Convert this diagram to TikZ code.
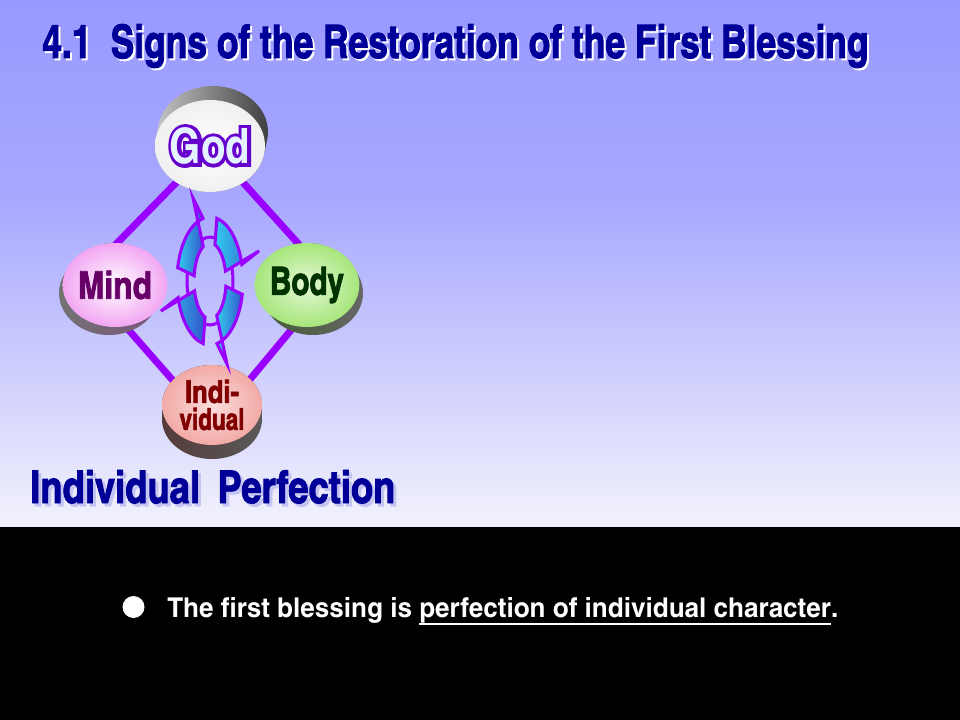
\documentclass[tikz,border=0pt]{standalone}
\usepackage{fontspec}
\usepackage{graphicx}
\newfontfamily\cnfont{TeX Gyre Heros Cn}
\newfontfamily\heavyfont{TeX Gyre Heros Cn}[FakeBold=2]
\newfontfamily\rimfont{TeX Gyre Heros Cn}[FakeBold=14]
\usetikzlibrary{shapes.geometric}

\newlength\px
\setlength\px{0.75pt}
\newcommand\fitto[3]{\resizebox{#1\px}{#2\px}{\cnfont\bfseries #3}}
\newcommand\heavyfit[3]{\resizebox{#1\px}{#2\px}{\heavyfont\bfseries #3}}
\newcommand\undr[1]{\vtop{\hbox{#1}\kern0.25pt\hrule height 0.7pt}}

\definecolor{bgtop}{HTML}{9999FF}
\definecolor{bgmid}{HTML}{A8A8FF}
\definecolor{bgbot}{HTML}{F2F2FC}
\definecolor{linkviolet}{HTML}{9900FF}
\definecolor{titleblue}{HTML}{000099}
\definecolor{shadeblue}{HTML}{C4C4F2}
\definecolor{godpurple}{HTML}{6600CC}
\definecolor{godfill}{HTML}{E4F2FF}
\definecolor{mindpink}{HTML}{F2A6F2}
\definecolor{mindtext}{HTML}{660066}
\definecolor{bodygreen}{HTML}{A6E67A}
\definecolor{bodytext}{HTML}{003300}
\definecolor{indpink}{HTML}{F2AAA6}
\definecolor{indtext}{HTML}{800000}
\definecolor{bladecyan}{HTML}{33CCEE}
\definecolor{bladeblue}{HTML}{3355CC}

\tikzset{
  face/.style={ellipse, shade, inner sep=0pt, minimum width=100\px, minimum height=84\px},
  link/.style={linkviolet, line width=7\px, line join=round},
  blade/.style={left color=bladecyan, right color=bladeblue, draw=linkviolet,
    line width=3\px, line join=miter},
  word/.style={inner sep=0pt, anchor=base west},
}

\begin{document}
\begin{tikzpicture}[x=0.75pt, y=-0.75pt]
  \useasboundingbox (0,0) rectangle (960,720);
  % backdrop
  \shade[top color=bgtop, bottom color=bgmid] (0,0) rectangle (960,201);
  \shade[top color=bgmid, bottom color=bgbot] (0,200) rectangle (960,527);
  \fill[black] (0,527) rectangle (960,720);

  % diamond of links
  \coordinate (godpt) at (211,147);
  \coordinate (bodypt) at (332,281);
  \coordinate (indpt) at (212,425);
  \coordinate (mindpt) at (83,278);
  \draw[link] (godpt) -- (bodypt) -- (indpt) -- (mindpt) -- cycle;

  % disks
  \shade[left color=gray!45, right color=black!75]
    \foreach \s in {0,0.25,0.5,0.75,1} {(210+3*\s,146-14*\s) ellipse [x radius=55, y radius=46]};
  \node[face, minimum width=110\px, minimum height=92\px,
    inner color=white, outer color=gray!12] (god) at (210,146) {};
  \node[inner sep=0pt, text=godpurple] (godrim) at (god.center)
    {\resizebox{80\px}{36\px}{\rimfont\bfseries God}};
  \node[inner sep=0pt, text=godfill] (godtext) at (god.center) {\fitto{80}{36}{God}};

  \shade[left color=black!55, right color=mindpink!50!black]
    \foreach \s in {0,0.25,0.5,0.75,1} {(115-6*\s,285+8*\s) ellipse [x radius=50, y radius=42]};
  \node[face, inner color=white, outer color=mindpink, text=mindtext] (mind) at (115,285)
    {\heavyfit{74}{28}{Mind}};

  \shade[left color=bodygreen!40!black, right color=black!60]
    \foreach \s in {0,0.25,0.5,0.75,1} {(307+6*\s,285+8*\s) ellipse [x radius=50, y radius=42]};
  \node[face, inner color=white!70!bodygreen, outer color=bodygreen, text=bodytext] (body) at (307,285)
    {\heavyfit{74}{28}{Body}};

  \shade[left color=indpink!35!black, right color=black!65]
    \foreach \s in {0,0.25,0.5,0.75,1} {(212,405+14*\s) ellipse [x radius=50, y radius=40]};
  \node[face, minimum height=80\px, inner color=white!60!indpink, outer color=indpink,
    text=indtext, align=center, font=\fontsize{10}{20.25}\selectfont] (ind) at (212,405)
    {\heavyfit{54}{23}{Indi-}\\\heavyfit{65}{22}{vidual}};

  % turning arrows
  \coordinate (ring) at (210,281);
  \draw[linkviolet, line width=3\px] (ring) ellipse [x radius=23, y radius=44];
  \foreach \turn in {0,180} {
    \begin{scope}[rotate around={\turn:(ring)}]
      \shadedraw[blade] (193,198) -- ([shift={(258:33 and 64)}]ring)
        arc [start angle=258, end angle=192, x radius=33, y radius=64]
        -- ([shift={(188:16 and 38)}]ring)
        arc [start angle=188, end angle=245, x radius=16, y radius=38] -- cycle;
      \shadedraw[blade] (161,311) -- ([shift={(165:33 and 64)}]ring)
        arc [start angle=165, end angle=102, x radius=33, y radius=64]
        -- ([shift={(108:16 and 38)}]ring)
        arc [start angle=108, end angle=165, x radius=16, y radius=38] -- cycle;
    \end{scope}
  }

  % headings
  \node[word, text=white] (titleshade) at (44,60)
    {\heavyfit{826}{34}{4.1\hspace{0.45em}Signs of the Restoration of the First Blessing}};
  \node[word, text=titleblue] (title) at (42,58)
    {\heavyfit{826}{34}{4.1\hspace{0.45em}Signs of the Restoration of the First Blessing}};
  \node[word, text=shadeblue] (perfshade) at (33,506)
    {\heavyfit{365}{33}{Individual\hspace{0.4em}Perfection}};
  \node[word, text=titleblue] (perf) at (30,503)
    {\heavyfit{365}{33}{Individual\hspace{0.4em}Perfection}};

  % statement
  \node[circle, fill=white, inner sep=0pt, minimum size=22\px] (dot) at (133.5,607) {};
  \node[word, text=white] (blessing) at (167,617)
    {\fitto{671}{20}{The first blessing is \undr{perfection of individual character}.}};
\end{tikzpicture}
\end{document}
